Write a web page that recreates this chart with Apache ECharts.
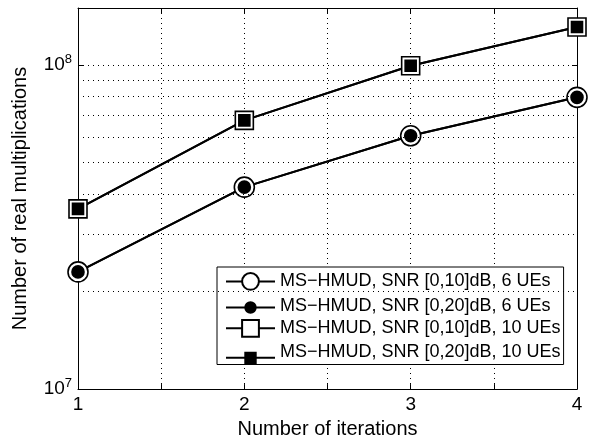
<!DOCTYPE html>
<html>
<head>
<meta charset="utf-8">
<script src="https://cdn.jsdelivr.net/npm/echarts@6/dist/echarts.min.js"></script>
<style>
  html, body { margin: 0; padding: 0; background: #fff; }
  #chart { width: 595px; height: 444px; }
</style>
</head>
<body>
<div id="chart"></div>
<script>
// iterations on the x axis
const iterations = [1, 2, 3, 4]

// real multiplications
const ue6Snr10 = [2.3e7, 4.2e7, 6.05e7, 7.95e7]
const ue6Snr20 = [2.3e7, 4.2e7, 6.05e7, 7.95e7]
const ue10Snr10 = [3.6e7, 6.75e7, 9.95e7, 1.31e8]
const ue10Snr20 = [3.6e7, 6.75e7, 9.95e7, 1.31e8]

const seriesNames = [
  'MS\u2212HMUD, SNR [0,10]dB, 6 UEs',
  'MS\u2212HMUD, SNR [0,20]dB, 6 UEs',
  'MS\u2212HMUD, SNR [0,10]dB, 10 UEs',
  'MS\u2212HMUD, SNR [0,20]dB, 10 UEs'
]

// log-axis minor grid lines (MATLAB style)
const minorGrid = [2e7, 3e7, 4e7, 5e7, 6e7, 7e7, 8e7, 9e7]

const font = 'Liberation Sans, Arial, sans-serif'
const pairs = ys => iterations.map((x, i) => [x, ys[i]])

function mkSeries(name, ys, symbol, size, fill, extra) {
  return Object.assign({
    name: name,
    type: 'line',
    data: pairs(ys),
    symbol: symbol,
    symbolSize: size,
    showAllSymbol: true,
    lineStyle: { color: '#000', width: 2 },
    itemStyle: { color: fill, borderColor: '#000', borderWidth: 1.6 },
    emphasis: { disabled: true },
    animation: false,
    z: 3
  }, extra || {})
}

const dotted = { color: '#000', type: [1, 4], width: 1 }

let chart = echarts.init(document.getElementById('chart'))

let option = {
  backgroundColor: '#fff',
  animation: false,
  grid: { left: 78, right: 18, top: 8, bottom: 52, show: false },
  legend: [{
    // box + all texts + icons of the open-marker rows
    orient: 'vertical',
    left: 217,
    top: 267,
    padding: [5, 3, 3, 8],
    itemWidth: 49,
    itemHeight: 21,
    itemGap: 4.3,
    selectedMode: false,
    backgroundColor: '#fff',
    borderColor: '#000',
    borderWidth: 1,
    borderRadius: 0,
    textStyle: { fontFamily: font, fontSize: 18, color: '#000' },
    data: [
      { name: seriesNames[0] },
      { name: seriesNames[1], icon: 'none' },
      { name: seriesNames[2] },
      { name: seriesNames[3], icon: 'none' }
    ]
  }, {
    // smaller icons of the filled-marker rows
    orient: 'vertical',
    left: 225,
    top: 301,
    padding: 0,
    itemWidth: 49,
    itemHeight: 13,
    itemGap: 37.67,
    selectedMode: false,
    textStyle: { fontSize: 8, color: 'rgba(0,0,0,0)' },
    formatter: () => '',
    data: [seriesNames[1], seriesNames[3]]
  }],
  xAxis: [{
    type: 'value',
    min: 1, max: 4, interval: 0.5,
    name: 'Number of iterations',
    nameLocation: 'middle',
    nameGap: 28,
    nameTextStyle: { fontFamily: font, fontSize: 20, color: '#000' },
    axisLine: { lineStyle: { color: '#000', width: 1 } },
    axisTick: { inside: true, length: 5, lineStyle: { color: '#000' } },
    axisLabel: {
      fontFamily: font, fontSize: 19, color: '#000', margin: 6,
      formatter: v => (v % 1 === 0 ? String(v) : '')
    },
    splitLine: { show: true, lineStyle: dotted }
  }, {
    type: 'value',
    position: 'top',
    min: 1, max: 4, interval: 0.5,
    axisLine: { show: true, lineStyle: { color: '#000', width: 1 } },
    axisTick: { show: true, inside: true, length: 5, lineStyle: { color: '#000' } },
    axisLabel: { show: false },
    splitLine: { show: false }
  }],
  yAxis: [{
    type: 'log',
    logBase: 10,
    min: 1e7, max: 1.5e8,
    name: 'Number of real multiplications',
    nameLocation: 'middle',
    nameGap: 48,
    nameTextStyle: { fontFamily: font, fontSize: 20, color: '#000' },
    axisLine: { show: true, lineStyle: { color: '#000', width: 1 } },
    axisTick: { inside: true, length: 5, lineStyle: { color: '#000' } },
    axisLabel: {
      fontFamily: font, fontSize: 19, color: '#000', margin: 6,
      formatter: v => {
        const e = Math.log10(v)
        if (Math.abs(e - Math.round(e)) > 1e-6) return ''
        return '{b|10}{sup|' + Math.round(e) + '}'
      },
      rich: {
        b: { fontFamily: font, fontSize: 19, color: '#000' },
        sup: { fontFamily: font, fontSize: 13, color: '#000', verticalAlign: 'top', padding: [0, 0, 11, 0] }
      }
    },
    splitLine: { show: true, lineStyle: dotted }
  }, {
    type: 'log',
    logBase: 10,
    position: 'right',
    min: 1e7, max: 1.5e8,
    axisLine: { show: true, lineStyle: { color: '#000', width: 1 } },
    axisTick: { show: true, inside: true, length: 5, lineStyle: { color: '#000' } },
    axisLabel: { show: false },
    splitLine: { show: false }
  }],
  series: [
    mkSeries(seriesNames[0], ue6Snr10, 'circle', 20, '#fff', {
      markLine: {
        silent: true,
        symbol: 'none',
        label: { show: false },
        lineStyle: dotted,
        animation: false,
        data: minorGrid.map(v => ({ yAxis: v }))
      }
    }),
    mkSeries(seriesNames[1], ue6Snr20, 'circle', 12, '#000'),
    mkSeries(seriesNames[2], ue10Snr10, 'rect', 18, '#fff'),
    mkSeries(seriesNames[3], ue10Snr20, 'rect', 11, '#000')
  ]
}

chart.setOption(option)
</script>
</body>
</html>
